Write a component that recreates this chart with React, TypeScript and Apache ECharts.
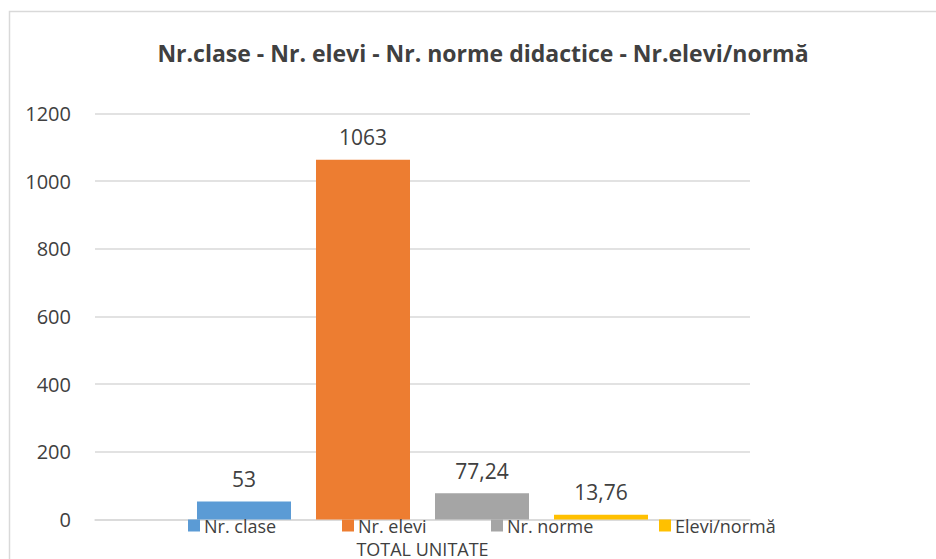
import React, { useEffect, useRef } from "react";
import * as echarts from "echarts";

const categories = ["TOTAL UNITATE"];
const seriesNames = ["Nr. clase", "Nr. elevi", "Nr. norme", "Elevi/normă"];
const seriesValues = [[53], [1063], [77.24], [13.76]];
const colors = ["#5B9BD5", "#ED7D31", "#A5A5A5", "#FFC000"];
const yTicks = { min: 0, max: 1200, interval: 200 };
const titleText = "Nr.clase - Nr. elevi - Nr. norme didactice - Nr.elevi/normă";
const legendLefts = [188, 342, 491, 659];

const FONT = "'Open Sans', sans-serif";
const TXT = "#404040";

export default function App() {
  const ref = useRef<HTMLDivElement>(null);
  useEffect(() => {
    document.body.style.margin = "0";
    const chart = echarts.init(ref.current!, null, { renderer: "svg" });
    chart.setOption({
      animation: false,
      backgroundColor: "#ffffff",
      textStyle: { fontFamily: FONT },
      title: {
        text: titleText,
        left: 478,
        textAlign: "center",
        top: 36,
        textStyle: { fontFamily: FONT, fontWeight: "bold", fontSize: 23, color: TXT },
      },
      graphic: [
        {
          type: "rect",
          shape: { x: 9.5, y: 11.5, width: 1000, height: 700 },
          style: { fill: "none", stroke: "#d9d9d9", lineWidth: 1.5 },
          silent: true,
        },
      ],
      legend: seriesNames.map((n, i) => ({
        data: [n],
        left: legendLefts[i],
        top: 516.5,
        icon: "rect",
        itemWidth: 12,
        itemHeight: 12,
        itemGap: 6,
        padding: 0,
        textStyle: { fontFamily: FONT, fontSize: 18, lineHeight: 17, color: TXT, padding: [0, 0, 0, -1] },
      })),
      grid: { left: 95, right: 186, top: 113.5, bottom: 39.5, containLabel: false },
      xAxis: {
        type: "category",
        data: categories,
        axisLine: { show: true, lineStyle: { color: "#d9d9d9", width: 1.5 } },
        axisTick: { show: false },
        axisLabel: { fontFamily: FONT, fontSize: 18, lineHeight: 17, color: TXT, margin: 20.5 },
      },
      yAxis: {
        type: "value",
        min: yTicks.min,
        max: yTicks.max,
        interval: yTicks.interval,
        axisLine: { show: false },
        axisTick: { show: false },
        splitLine: { lineStyle: { color: "#d9d9d9", width: 1.5 } },
        axisLabel: {
          fontFamily: FONT,
          fontSize: 20,
          color: TXT,
          margin: 24,
          formatter: (v: number) => String(v),
        },
      },
      series: seriesNames.map((n, i) => ({
        name: n,
        type: "bar",
        data: seriesValues[i],
        barWidth: 94,
        barGap: "26.6%",
        itemStyle: { color: colors[i] },
        label: {
          show: true,
          position: "top",
          distance: 12,
          fontFamily: FONT,
          fontSize: 21,
          color: TXT,
          formatter: (p: any) => String(p.value).replace(".", ","),
        },
      })),
    });
    return () => chart.dispose();
  }, []);
  return (
    <div
      ref={ref}
      style={{ position: "fixed", left: 0, top: 0, width: 936, height: 559 }}
    />
  );
}
